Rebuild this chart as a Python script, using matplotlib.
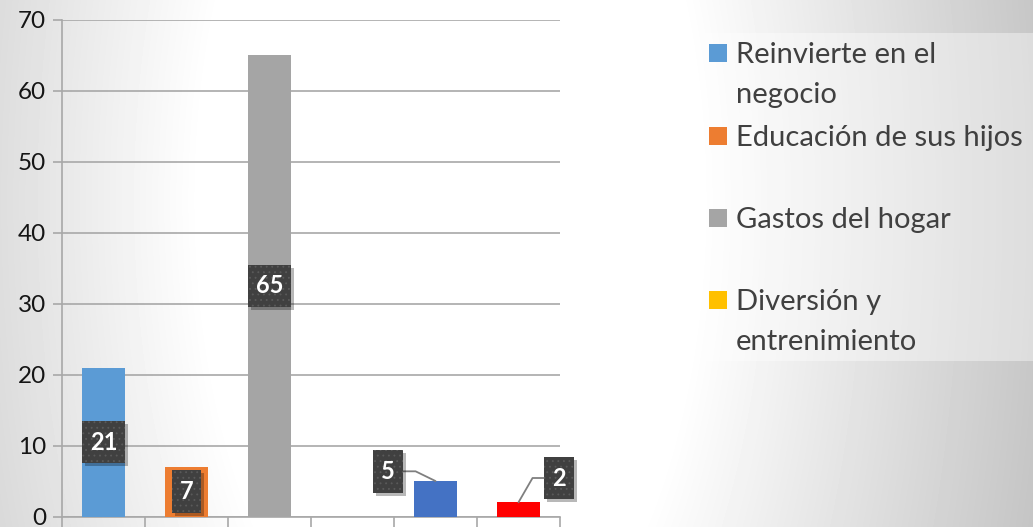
import numpy as np
import matplotlib
matplotlib.use("Agg")
import matplotlib.pyplot as plt
from matplotlib.patches import Rectangle
from matplotlib.path import Path
import matplotlib.patheffects as pe

# ---------------- data ----------------
values = [21, 7, 65, 0, 5, 2]
bar_colors = ["#5B9BD5", "#ED7D31", "#A5A5A5", "#FFC000", "#4472C4", "#FF0000"]
legend_labels = [
    ["Reinvierte en el", "negocio"],
    ["Educación de sus hijos"],
    ["Gastos del hogar"],
    ["Diversión y", "entrenimiento"],
]
yticks = [0, 10, 20, 30, 40, 50, 60, 70]

# label placement (offset in points from anchor; anchor = bar middle unless leader)
label_offsets = [(0, 0), (0, 0), (0, 0), None, (-34, 7), (29, 17.5)]
leader_angles = [None, None, None, None, 154, 60]

plt.rcParams["font.family"] = ["Lato", "DejaVu Sans"]
plt.rcParams["hatch.linewidth"] = 0.6


class BoxShadow(pe.AbstractPathEffect):
    """Plain offset shadow (without the hatch of the patch)."""

    def __init__(self, offset=(2.2, -2.2), alpha=0.28):
        super().__init__(offset)
        self.alpha = alpha

    def draw_path(self, renderer, gc, tpath, affine, rgbFace):
        gc0 = renderer.new_gc()
        gc0.copy_properties(gc)
        gc0.set_hatch(None)
        gc0.set_linewidth(0)
        gc0.set_foreground((0, 0, 0))
        gc0.set_alpha(self.alpha)
        renderer.draw_path(gc0, tpath, affine + self._offset_transform(renderer),
                           (0, 0, 0, self.alpha))
        gc0.restore()


def label_box(x0, y0, width, height, mutation_size):
    padx = 0.34 * mutation_size
    pady = 0.42 * mutation_size
    x0, y0 = x0 - padx, y0 - pady
    x1, y1 = x0 + width + 2 * padx, y0 + height + 2 * pady
    return Path([(x0, y0), (x1, y0), (x1, y1), (x0, y1), (x0, y0)], closed=True)


W, H = 1033, 527
fig = plt.figure(figsize=(W / 100, H / 100), dpi=100)

# background radial gradient
bg = fig.add_axes([0, 0, 1, 1], zorder=0)
bg.axis("off")
yy, xx = np.mgrid[0:H, 0:W]
d = np.sqrt((xx - 450) ** 2 + ((yy - 200) * 0.5) ** 2)
g = np.clip(255 - 0.165 * np.clip(d - 250, 0, None), 0, 255) / 255
bg.imshow(g, cmap="gray", vmin=0, vmax=1, extent=[0, 1, 0, 1], aspect="auto",
          origin="upper", interpolation="bilinear")
bg.set_xlim(0, 1)
bg.set_ylim(0, 1)

# main axes
ax = fig.add_axes([62 / W, 1 - 516.5 / H, (560 - 62) / W, (516.5 - 20) / H], zorder=1)
ax.patch.set_alpha(0)

x = np.arange(len(values))
bars = ax.bar(x, values, width=0.51, color=bar_colors, zorder=3)

ax.set_xlim(-0.5, len(values) - 0.5)
ax.set_ylim(0, 70)
ax.set_yticks(yticks)
ax.set_yticklabels([str(t) for t in yticks])
ax.yaxis.grid(True, color="#a8a8a8", lw=1.2)
ax.set_axisbelow(True)
for s in ["top", "right"]:
    ax.spines[s].set_visible(False)
for s in ["left", "bottom"]:
    ax.spines[s].set_color("#a8a8a8")
    ax.spines[s].set_linewidth(1.2)
ax.tick_params(axis="y", length=6.5, color="#a8a8a8", width=1.2,
               labelsize=17.5, labelcolor="#151515", pad=5)
ax.set_xticks([])
ax.set_xticks(np.arange(-0.5, len(values), 1), minor=True)
ax.tick_params(axis="x", which="minor", length=10, color="#a8a8a8", width=1.2)

box = dict(boxstyle=label_box, fc="#404040", ec="#5a5a5a", lw=0, hatch="...")

for i, v in enumerate(values):
    off = label_offsets[i]
    if off is None:
        continue
    leader = leader_angles[i]
    anchor = (i, v) if leader is not None else (i, v / 2)
    kw = dict(xy=anchor, xytext=off, textcoords="offset points", ha="center",
              va="center", color="white", fontsize=17, fontweight="bold",
              bbox=dict(box), zorder=5)
    if leader is not None:
        kw["arrowprops"] = dict(arrowstyle="-", color="#7f7f7f", lw=1.3,
                                shrinkA=0, shrinkB=0,
                                connectionstyle=f"angle,angleA=0,angleB={leader},rad=0")
    t = ax.annotate(str(v), **kw)
    t.get_bbox_patch().set_path_effects([BoxShadow(), pe.Normal()])

# legend (manual, to match top-aligned entries)
fig.add_artist(Rectangle((693 / W, 1 - 361 / H), (W - 693) / W, (361 - 33) / H,
                         transform=fig.transFigure, fc="white", alpha=0.4,
                         ec="none", zorder=2))
base_y = [63, 146, 228, 310]
for k, lines in enumerate(legend_labels):
    b = base_y[k]
    fig.add_artist(Rectangle((709 / W, 1 - (b - 1) / H), 18 / W, 18 / H,
                             transform=fig.transFigure, fc=bar_colors[k], ec="none", zorder=3))
    for j, line in enumerate(lines):
        fig.text(736 / W, 1 - (b + 39.5 * j) / H, line, ha="left", va="baseline",
                 fontsize=21, color="#404040", zorder=3)

fig.savefig("out.png", dpi=100)
